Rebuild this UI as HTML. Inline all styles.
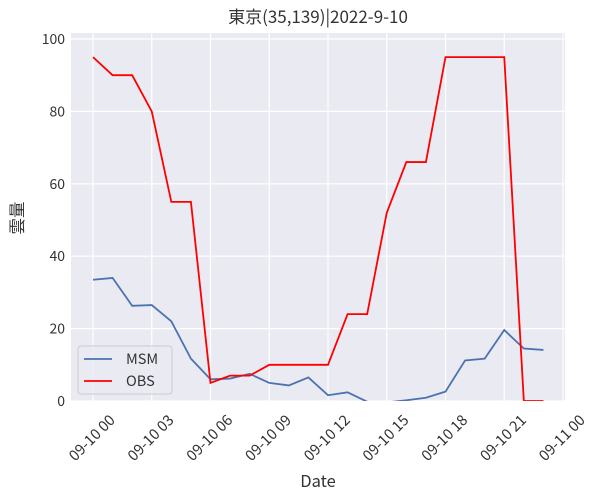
<!DOCTYPE html>
<html><head><meta charset="utf-8"><style>
body{margin:0;background:#fff}
text{font-family:"Noto Sans CJK JP","Liberation Sans",sans-serif;fill:#333}
</style></head><body>
<svg id="chart" width="599" height="499" xmlns="http://www.w3.org/2000/svg"></svg>
<script>
const hours=[0,1,2,3,4,5,6,7,8,9,10,11,12,13,14,15,16,17,18,19,20,21,22,23];
const msmValues=[33.5,34,26.3,26.5,22,11.7,6,6.2,7.5,5,4.3,6.5,1.6,2.4,-0.2,-0.4,0.2,0.9,2.6,11.2,11.7,19.6,14.5,14.1];
const obsValues=[95,90,90,80,55,55,5,7,7,10,10,10,10,24,24,52,66,66,95,95,95,95,0,0];
const xTickHours=[0,3,6,9,12,15,18,21,24];
const xTickLabels=["09-10 00","09-10 03","09-10 06","09-10 09","09-10 12","09-10 15","09-10 18","09-10 21","09-11 00"];
const yTicks=[0,20,40,60,80,100];

const svg=document.getElementById('chart');
const NS='http://www.w3.org/2000/svg';
const L=71,R=565,T=33,B=401;
const x=h=>93+h*(563-93)/24;
const y=v=>401-v*(401-39)/100;
function mk(tag,attrs,parent){const e=document.createElementNS(NS,tag);for(const k in attrs)e.setAttribute(k,attrs[k]);(parent||svg).appendChild(e);return e;}

const bg=mk('rect',{x:L,y:T,width:R-L,height:B-T,fill:'#eaeaf2'});


const defs=mk('defs',{});
const cp=mk('clipPath',{id:'clip'},defs);
mk('rect',{x:L,y:T,width:R-L,height:B-T},cp);

yTicks.forEach(v=>{
  const g=mk('line',{x1:L,x2:R,y1:y(v),y2:y(v),stroke:'#fff','stroke-width':1.2});
  
  
  const t=mk('text',{x:L-6,y:y(v)+5,'text-anchor':'end','font-size':14});
  t.textContent=v;
  
  
});
xTickHours.forEach((h,i)=>{
  const g=mk('line',{x1:x(h),x2:x(h),y1:T,y2:B,stroke:'#fff','stroke-width':1.2});
  
  
  const ax=x(h)+23, ay=B+20;
  const t=mk('text',{x:ax,y:ay,'text-anchor':'end','font-size':14.8,transform:`rotate(-45 ${ax} ${ay})`});
  t.textContent=xTickLabels[i];
  
  
});

function series(vals,color,name){
  const p=mk('polyline',{points:vals.map((v,i)=>x(hours[i])+','+y(v)).join(' '),fill:'none',stroke:color,'stroke-width':1.8,'clip-path':'url(#clip)'});
  
  
}
series(msmValues,'#4c72b0','msm-line');
series(obsValues,'#ff0000','obs-line');

const lg=mk('g',{});


mk('rect',{x:78,y:346,width:94,height:48,rx:3,fill:'#eaeaf2',stroke:'#ccc','fill-opacity':0.8},lg);
mk('line',{x1:84,x2:112,y1:359,y2:359,stroke:'#4c72b0','stroke-width':1.8},lg);
mk('line',{x1:84,x2:112,y1:381,y2:381,stroke:'#ff0000','stroke-width':1.8},lg);
const t1=mk('text',{x:126,y:364,'font-size':14.5},lg);t1.textContent='MSM';


const t2=mk('text',{x:126,y:386,'font-size':14.5},lg);t2.textContent='OBS';



const title=mk('text',{x:318,y:23,'text-anchor':'middle','font-size':17});
title.textContent='東京(35,139)|2022-9-10';


const xl=mk('text',{x:318,y:487,'text-anchor':'middle','font-size':16.5});
xl.textContent='Date';


const yl=mk('text',{x:23,y:218,'text-anchor':'middle','font-size':16.5,transform:'rotate(-90 23 218)'});
yl.textContent='雲量';


</script>
</body></html>
